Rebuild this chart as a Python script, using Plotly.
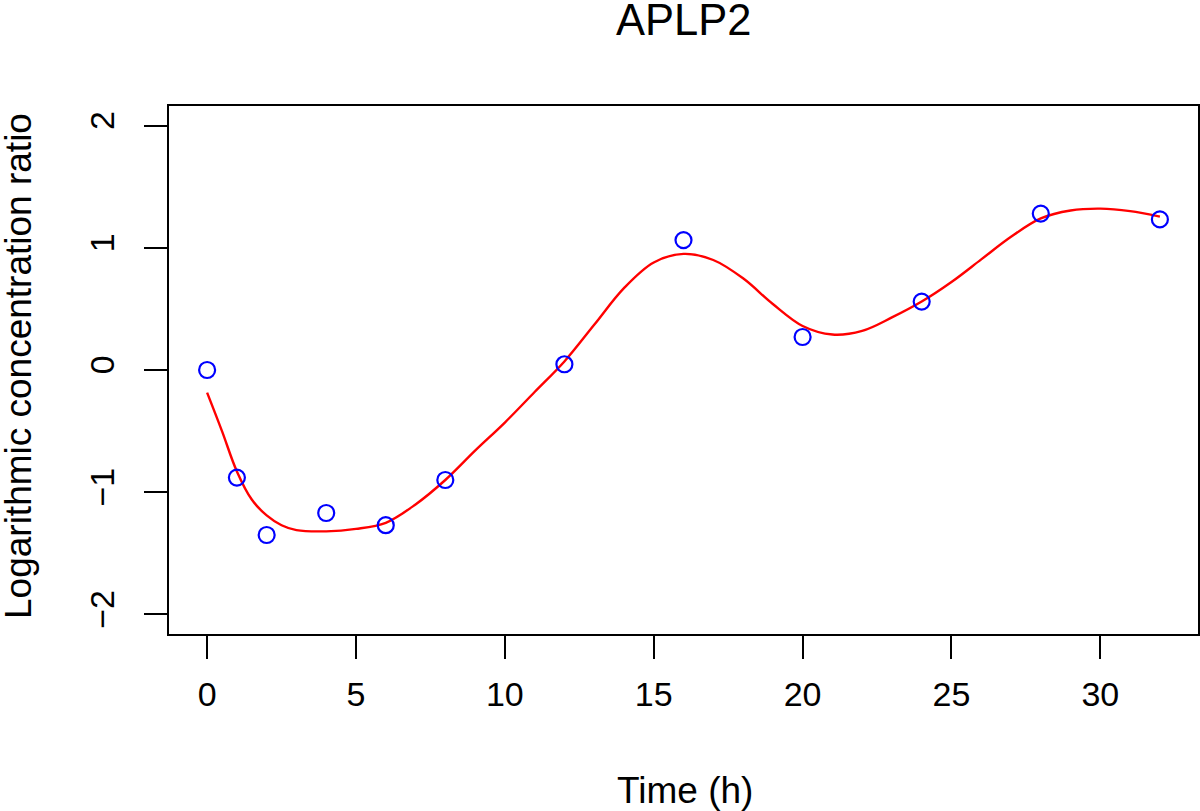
import plotly.graph_objects as go

# Observed data (time in hours, log concentration ratio)
time_h = [0, 1, 2, 4, 6, 8, 12, 16, 20, 24, 28, 32]
log_ratio = [0.0, -0.88, -1.35, -1.17, -1.27, -0.90, 0.047, 1.063, 0.27, 0.56, 1.28, 1.232]

# Fitted smooth curve
fit_t = [0, 0.5, 1, 1.5, 2, 2.5, 3, 4, 5, 6, 7, 8, 9, 10, 11, 12, 13, 14, 15, 16,
         17, 18, 19, 20, 21, 22, 23, 24, 25, 26, 27, 28, 29, 30, 31, 32]
fit_y = [-0.185, -0.50, -0.83, -1.06, -1.19, -1.27, -1.31, -1.32, -1.30, -1.25, -1.10,
         -0.90, -0.66, -0.43, -0.18, 0.07, 0.37, 0.67, 0.88, 0.95, 0.90, 0.75, 0.54,
         0.36, 0.29, 0.32, 0.43, 0.56, 0.72, 0.905, 1.09, 1.24, 1.305, 1.32, 1.30, 1.255]

x_ticks = [0, 5, 10, 15, 20, 25, 30]
y_ticks = [-2, -1, 0, 1, 2]

FONT = "Liberation Sans, Arial, Helvetica, sans-serif"

# plot area in pixels
L, R, T, B = 169, 1198, 106, 634
W, H = 1200, 811
pw, ph = R - L, B - T

def py(ypx):
    return (B - ypx) / ph

def px(xpx):
    return (xpx - L) / pw

fig = go.Figure()
fig.add_trace(go.Scatter(x=fit_t, y=fit_y, mode="lines",
                         line=dict(color="#FF0000", width=2.4, shape="spline", smoothing=1.0),
                         showlegend=False, hoverinfo="skip"))
fig.add_trace(go.Scatter(x=time_h, y=log_ratio, mode="markers",
                         marker=dict(symbol="circle-open", size=16, color="#0000FF",
                                     line=dict(width=2.2, color="#0000FF")),
                         showlegend=False))

axis_common = dict(showgrid=False, zeroline=False, showline=True, mirror=True,
                   linecolor="black", linewidth=2.3, ticks="outside", ticklen=23,
                   tickwidth=2.3, tickcolor="black", automargin=False,
                   tickfont=dict(family=FONT, size=34, color="black"))

fig.update_layout(
    width=W, height=H,
    margin=dict(l=L, r=W - R, t=T, b=H - B),
    paper_bgcolor="white", plot_bgcolor="white",
    xaxis=dict(range=[-1.28, 33.28], tickvals=x_ticks, ticklabelstandoff=6, **axis_common),
    yaxis=dict(range=[-2.16, 2.16], tickvals=y_ticks, tickangle=-90, ticklabelstandoff=16,
               **axis_common),
    annotations=[
        dict(text="APLP2", x=px(683.5), y=py(20), xref="paper", yref="paper",
             xanchor="center", yanchor="middle", showarrow=False,
             font=dict(family=FONT, size=43.5, color="black")),
        dict(text="Time (h)", x=px(684.5), y=py(790), xref="paper", yref="paper",
             xanchor="center", yanchor="middle", showarrow=False,
             font=dict(family=FONT, size=37, color="black")),
        dict(text="Logarithmic concentration ratio", x=px(18), y=py(366),
             xref="paper", yref="paper", xanchor="center", yanchor="middle",
             textangle=-90, showarrow=False,
             font=dict(family=FONT, size=37, color="black")),
    ],
)

fig.write_html("out.html", config={"displayModeBar": False},
               post_script="document.body.style.margin='0';document.body.style.padding='0';")
